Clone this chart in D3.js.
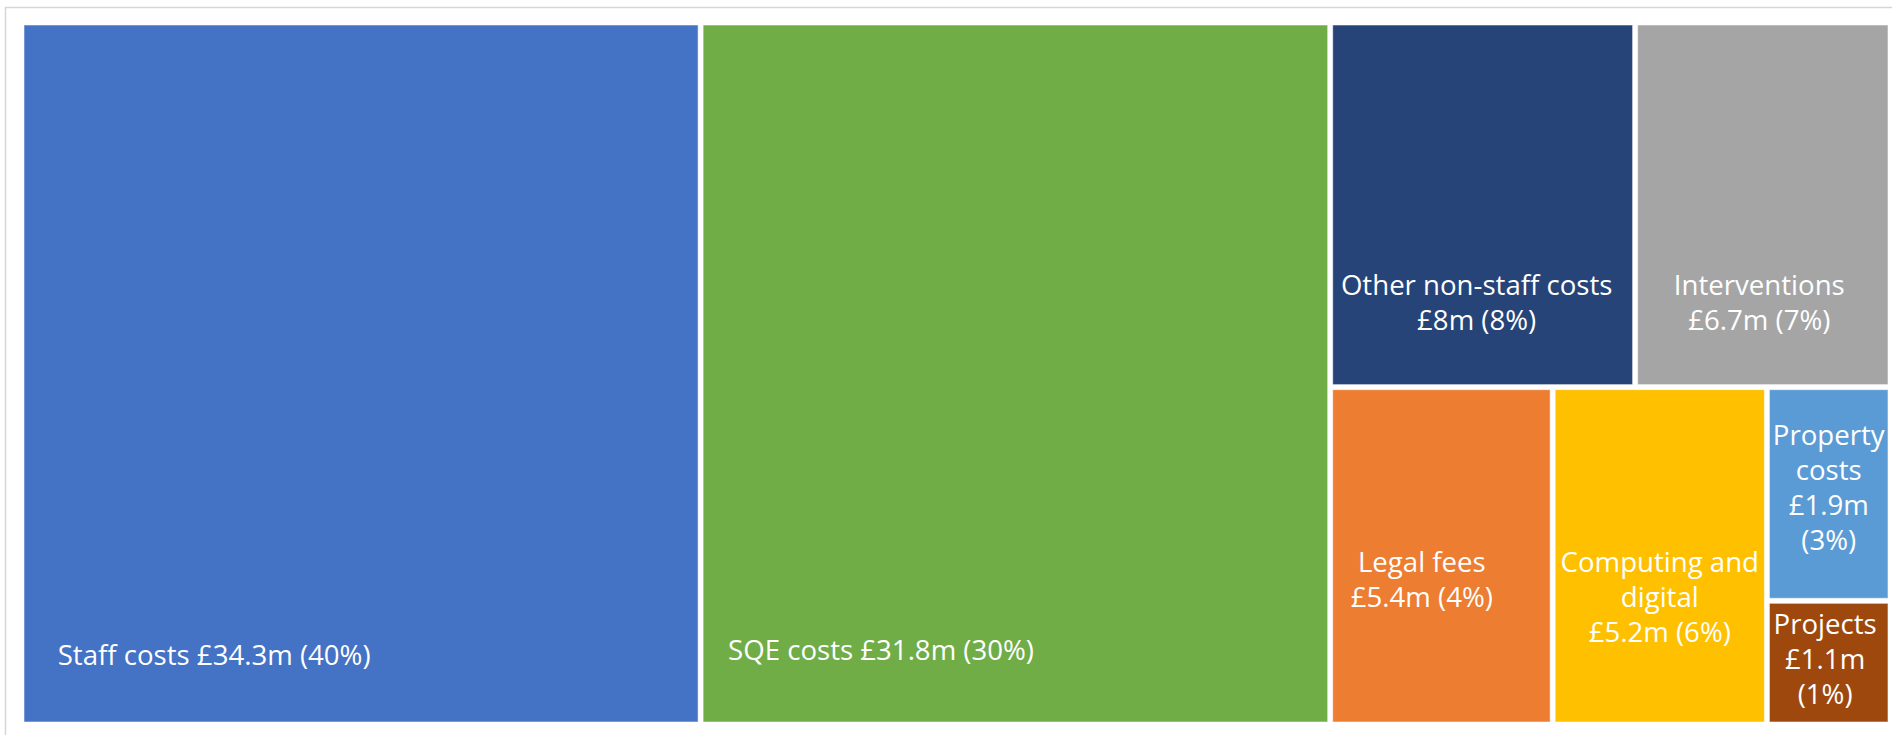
<!DOCTYPE html>
<html lang="en">
<head>
    <meta charset="UTF-8">
    <title>Expenditure treemap</title>
    <script src="https://d3js.org/d3.v7.min.js"></script>
    <style>
        body { margin: 0; background: #fff; }
        .cell-label {
            font-family: "Open Sans", "Noto Sans", sans-serif;
            font-size: 27.6px;
            fill: #fff;
            pointer-events: none;
        }
    </style>
</head>
<body>
    <svg width="1892" height="735"></svg>
    <script>
        const width = 1892;
        const height = 735;

        // Categories and values (£m), percentages as printed on the chart
        const categories = ["Staff costs", "SQE costs", "Other non-staff costs", "Interventions",
                            "Legal fees", "Computing and digital", "Property costs", "Projects"];
        const valuesM = [34.3, 31.8, 8, 6.7, 5.4, 5.2, 1.9, 1.1];
        const percents = [40, 30, 8, 7, 4, 6, 3, 1];

        const colours = ["#4472C4", "#70AD47", "#264478", "#A5A5A5",
                         "#ED7D31", "#FFC000", "#5B9BD5", "#9E480E"];

        // nesting of the boxes as Excel tiled them (indices into categories);
        // levels alternate side-by-side / stacked
        const tiling = [0, 1, [[2, 3], [4, 5, [6, 7]]]];

        // Where each label sits inside its box (fractions of the box), like the moved Excel labels
        const labelAnchor = ["start", "start", "middle", "middle", "middle", "middle", "middle", "middle"];
        const labelFx = [0.05, 0.04, 0.48, 0.486, 0.41, 0.5, 0.5, 0.47];
        const labelFy = [0.918, 0.911, 0.752, 0.752, 0.548, 0.548, 0.266, 0.26];
        const LINE_HEIGHT = 35;

        const svg = d3.select("svg");

        // light frame round the chart area
        svg.append("rect")
            .attr("x", 5.5).attr("y", 7.5)
            .attr("width", 1900).attr("height", 800)
            .attr("fill", "none")
            .attr("stroke", "#d6d6d6")
            .attr("stroke-width", 1.5);

        function build(t) {
            if (Array.isArray(t)) return {children: t.map(build)};
            return {name: categories[t], value: valuesM[t], pct: percents[t], i: t};
        }

        const root = d3.hierarchy(build(tiling)).sum(d => d.value || 0);

        d3.treemap()
            .tile((node, x0, y0, x1, y1) =>
                (node.depth % 2 === 0 ? d3.treemapDice : d3.treemapSlice)(node, x0, y0, x1, y1))
            .size([1864, 697])
            .paddingInner(5)
            (root);

        const g = svg.append("g").attr("transform", "translate(24,25)");

        const cell = g.selectAll("g.cell")
            .data(root.leaves())
            .enter().append("g")
            .attr("class", "cell");

        cell.append("rect")
            .attr("x", d => d.x0)
            .attr("y", d => d.y0)
            .attr("width", d => d.x1 - d.x0)
            .attr("height", d => d.y1 - d.y0)
            .attr("fill", d => colours[d.data.i])
            .attr("stroke", "rgba(255,255,255,0.55)")
            .attr("stroke-width", 1);

        // measure text to decide where lines break
        const measurer = svg.append("text").attr("class", "cell-label").attr("x", -999).attr("y", -999);
        function textWidth(s) {
            measurer.text(s);
            return measurer.node().getComputedTextLength();
        }

        function wrapWords(s, maxW) {
            const words = s.split(" ");
            const lines = [];
            let line = words[0];
            for (let k = 1; k < words.length; k++) {
                const test = line + " " + words[k];
                if (textWidth(test) <= maxW) line = test;
                else { lines.push(line); line = words[k]; }
            }
            lines.push(line);
            return lines;
        }

        function labelLines(d) {
            const maxW = (d.x1 - d.x0) - 4;
            const valueText = "£" + d.data.value + "m (" + d.data.pct + "%)";
            const full = d.data.name + " " + valueText;
            if (textWidth(full) <= maxW) return [full];
            return wrapWords(d.data.name, maxW).concat(wrapWords(valueText, maxW));
        }

        cell.each(function(d) {
            const i = d.data.i;
            const lines = labelLines(d);
            const x = d.x0 + labelFx[i] * (d.x1 - d.x0);
            const y = d.y0 + labelFy[i] * (d.y1 - d.y0);
            const text = d3.select(this).append("text")
                .attr("class", "cell-label")
                .attr("text-anchor", labelAnchor[i]);
            lines.forEach((l, k) => {
                text.append("tspan")
                    .attr("x", x)
                    .attr("y", y + k * LINE_HEIGHT)
                    .text(l);
            });
        });

        measurer.remove();
    </script>
</body>
</html>
